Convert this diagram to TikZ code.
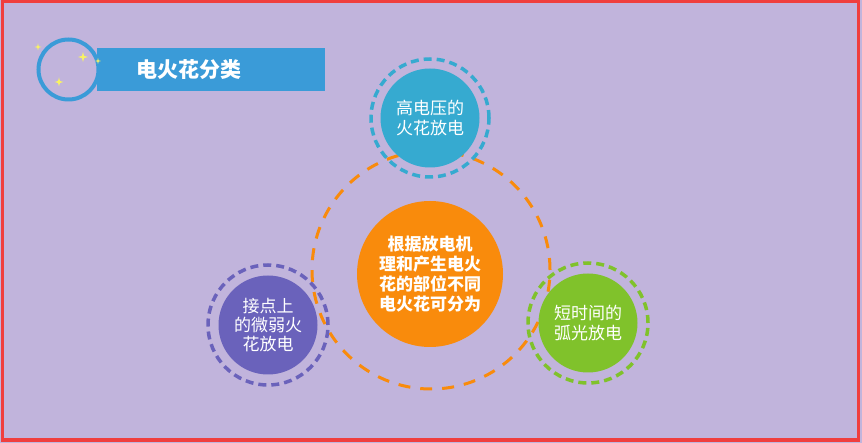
\documentclass[tikz,border=0pt]{standalone}
\usepackage{fontspec}
\setmainfont{Noto Sans CJK SC}
\usepackage{xcolor}

\definecolor{bgpurple}{HTML}{C1B4DC}
\definecolor{frame}{HTML}{F03E3E}
\definecolor{titleblue}{HTML}{3A9BD8}
\definecolor{topblue}{HTML}{36AAD0}
\definecolor{leftpurple}{HTML}{6A62BB}
\definecolor{rightgreen}{HTML}{80C22B}
\definecolor{midorange}{HTML}{F98B0C}
\definecolor{sparkle}{HTML}{F8F264}

\tikzset{
  bubble/.style={circle, inner sep=0pt, minimum size=99pt, text=white, align=center,
    font=\fontsize{17}{20.5}\selectfont},
  ring/.style={line width=3.5pt, dash pattern=on 8pt off 5pt},
}

% small four point star
\newcommand{\sparkleat}[3]{%
  \fill[sparkle] (#1,#2-#3) -- (#1+0.22*#3,#2-0.22*#3) -- (#1+#3,#2) -- (#1+0.22*#3,#2+0.22*#3)
    -- (#1,#2+#3) -- (#1-0.22*#3,#2+0.22*#3) -- (#1-#3,#2) -- (#1-0.22*#3,#2-0.22*#3) -- cycle;}

\begin{document}
\begin{tikzpicture}[x=1pt, y=-1pt]
  % background and frame
  \useasboundingbox (0,0) rectangle (862,443);
  \fill[bgpurple] (0,0) rectangle (862,443);
  \draw[frame, line width=3.5pt] (2.5,1.5) rectangle (858.5,440);

  % title
  \fill[titleblue] (97,48) rectangle (325,91);
  \draw[titleblue, line width=4pt] (68.5,69.5) circle (30pt);
  \node[text=white, font=\fontsize{21}{21}\bfseries\selectfont] (title) at (189,70) {电火花分类};
  \sparkleat{38}{47}{3.5}
  \sparkleat{83}{57}{5}
  \sparkleat{59}{82}{4.5}
  \sparkleat{98}{61}{3}

  % big orange dashed circle
  \draw[midorange, line width=3pt, dash pattern=on 12pt off 10pt] (431,270) circle (119pt);

  % centre
  \node[bubble, fill=midorange, minimum size=146pt, font=\fontsize{17}{20}\bfseries\selectfont] (centre) at (430,274)
    {根据放电机\\理和产生电火\\花的部位不同\\电火花可分为};

  % three kinds
  \node[bubble, fill=topblue] (top) at (430,118) {高电压的\\火花放电};
  \draw[topblue, ring] (top.center) circle (59pt);

  \node[bubble, fill=leftpurple, font=\fontsize{17}{19}\selectfont] (left) at (268,325) {接点上\\的微弱火\\花放电};
  \draw[leftpurple, ring] (left.center) circle (60pt);

  \node[bubble, fill=rightgreen] (right) at (588,323) {短时间的\\弧光放电};
  \draw[rightgreen, ring] (right.center) circle (60pt);
\end{tikzpicture}
\end{document}
